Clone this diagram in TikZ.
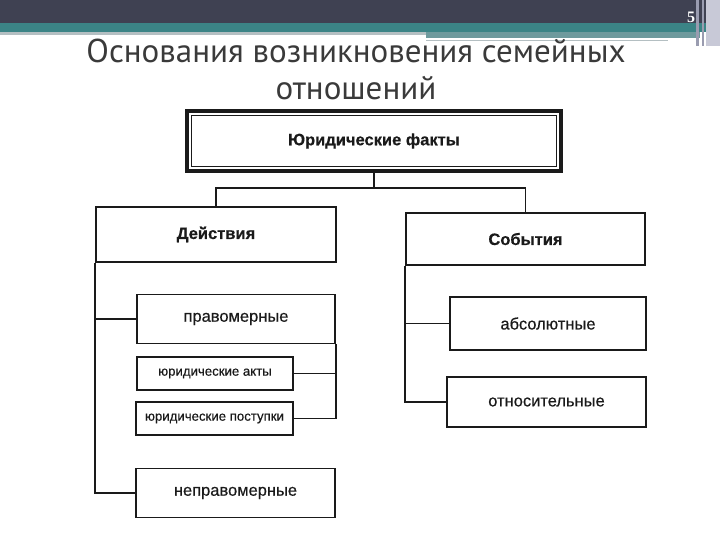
\documentclass[tikz,border=0pt]{standalone}
\usepackage{fontspec}
\setmainfont[FakeBold=0.5]{Liberation Sans}
\newfontfamily\titlefont{PT Sans}
\newfontfamily\numfont{Liberation Serif}
\definecolor{barDark}{HTML}{3F4152}
\definecolor{barTeal}{HTML}{3B8486}
\definecolor{barPale}{HTML}{B4BFC2}
\definecolor{barMid}{HTML}{6E9A9D}
\definecolor{sideA}{HTML}{9A9CB0}
\definecolor{sideB}{HTML}{C8C9D7}
\definecolor{ink}{HTML}{1A1A1A}
\definecolor{titlegray}{HTML}{3A3A3A}
\begin{document}
\begin{tikzpicture}[
    x=1pt, y=-1pt,
    every node/.style={font=\fontsize{16.5}{18}\selectfont, text=ink},
    box/.style={
        draw=ink, line width=1.8pt, inner sep=0pt,
        minimum width=198pt, minimum height=49pt
    },
    headbox/.style={box, font=\bfseries\fontsize{16.5}{18}\selectfont},
    smallbox/.style={box, minimum height=33pt,
        font=\fontsize{13.2}{15}\selectfont},
    link/.style={draw=ink, line width=1.8pt}
]
\useasboundingbox (0,0) rectangle (720,540);

% Kopfleiste der Folie
\fill[barDark] (0,0) rectangle (720,23);
\fill[barTeal] (0,23) rectangle (720,32);
\fill[barPale] (0,32) rectangle (426,35.5);
\fill[barMid] (426,32) rectangle (700,38);
\fill[barPale] (426,40) rectangle (668,41.5);
\fill[sideA] (696,0) rectangle (699,46);
\fill[sideA] (702,0) rectangle (704,46);
\fill[sideB] (706,0) rectangle (720,46);
\node[font=\numfont\bfseries\fontsize{16}{16}\selectfont, text=white] (pg) at (691,17) {5};

% Titel
\node[font=\titlefont\fontsize{33}{37}\selectfont, text=titlegray, align=center]
    (title) at (356,69) {Основания возникновения семейных\\отношений};

% Oberster Kasten (doppelter Rahmen)
\node[headbox, line width=3.5pt, minimum width=374pt, minimum height=60pt]
    (jf) at (374,141) {Юридические факты};
\draw[line width=1.2pt, draw=ink]
    ([shift={(6pt,-6pt)}]jf.north west) rectangle ([shift={(-6pt,6pt)}]jf.south east);

% Zweite Ebene
\node[headbox, minimum width=240pt, minimum height=55pt] (dej) at (216,234.5) {Действия};
\node[headbox, minimum width=239pt, minimum height=52pt] (sob) at (525.5,239) {События};

% Linker Zweig
\node[box] (prav) at (236,319) {правомерные};
\node[smallbox, minimum width=156pt] (akty) at (215,373.5) {юридические акты};
\node[smallbox, minimum width=157pt] (post) at (214.5,418.5) {юридические поступки};
\node[box, minimum width=199pt] (neprav) at (235.5,493) {неправомерные};

% Rechter Zweig
\node[box, minimum width=196pt, minimum height=53pt] (abs) at (548,323.5) {абсолютные};
\node[box, minimum width=199pt, minimum height=50pt] (otn) at (546.5,402) {относительные};

% Verbindungen oben
\coordinate (split) at (374,188);
\draw[link] (jf.south) -- (split);
\draw[link] (dej.north) |- (split) -| (sob.north);

% Stamm links
\draw[link] (dej.south west) |- (neprav.west);
\draw[link] (prav.west) -- (prav.west -| dej.south west);

% Klammer rechts an den Unterarten
\draw[link] (prav.south east) |- (post.east);
\draw[link] (akty.east) -- (akty.east -| prav.south east);

% Stamm rechts
\draw[link] (sob.south west) |- (otn.west);
\draw[link] (abs.west) -- (abs.west -| sob.south west);

\end{tikzpicture}
\end{document}
